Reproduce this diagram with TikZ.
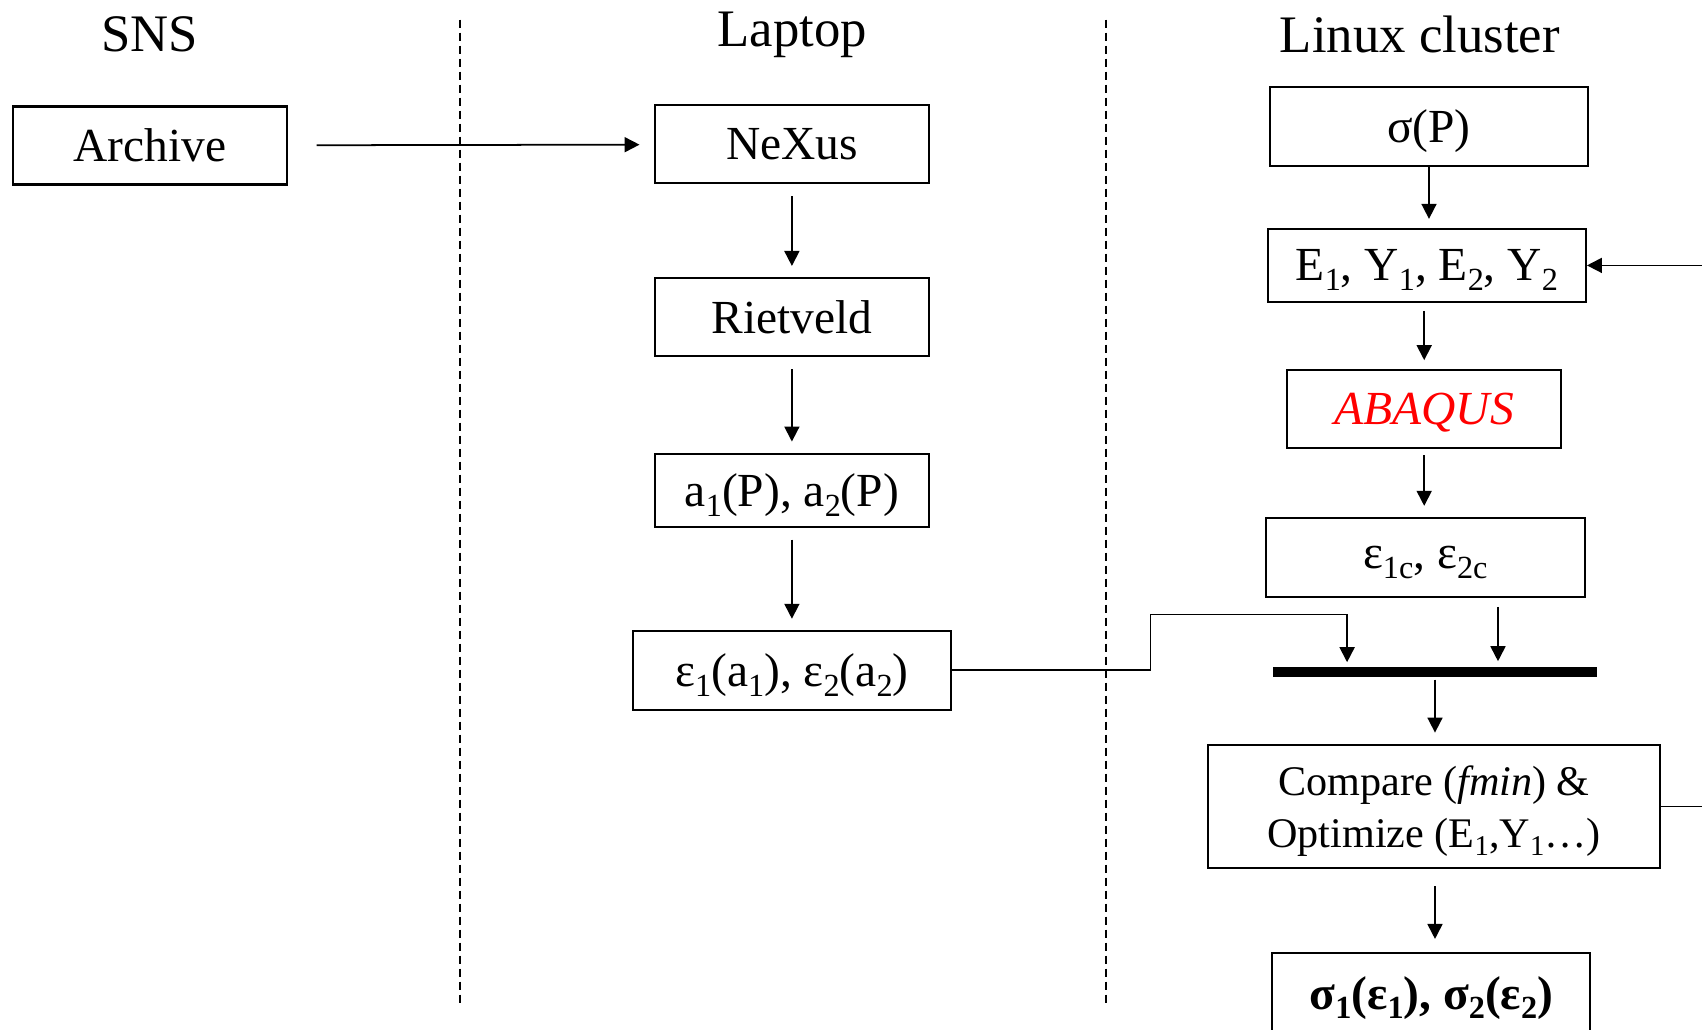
\documentclass[tikz,border=0pt]{standalone}
\usepackage{fontspec}
\setmainfont{Liberation Serif}
\usepackage{tikz}
\usetikzlibrary{arrows.meta}
\newcommand{\ix}[1]{\raisebox{-0.2em}{\scalebox{0.68}{#1}}}

\begin{document}
\begin{tikzpicture}[>={Triangle[length=1.5mm,width=1.5mm]},
      every node/.append style={inner sep=0pt,font=\fontsize{13.5}{16}\selectfont},
      flow/.style={->,line width=0.5pt,shorten <=1.2mm,shorten >=1.1mm},
      wire/.style={->,line width=0.5pt}]
    \tikzstyle{box} = [draw,line width=0.6pt,align=center,minimum height=7.8mm,text depth=0pt]
    \tikzstyle{title} = [font=\fontsize{15}{18}\selectfont]
    \path[use as bounding box,clip] (0,0) rectangle (17.02,-10.30);
    % columns
    \node [title] (sns) at (1.498,-0.347) {SNS};
    \node [title] (laptop) at (7.924,-0.347) {Laptop};
    \node [title] (cluster) at (14.198,-0.347) {Linux cluster};
    \draw [dashed,dash pattern=on 0.8mm off 0.5mm,line width=0.5pt] (4.603,-0.195) -- (4.603,-10.04);
    \draw [dashed,dash pattern=on 0.8mm off 0.5mm,line width=0.5pt] (11.061,-0.195) -- (11.061,-10.04);
    % laptop side
    \node [box,minimum width=27.36mm] (archive) at (1.498,-1.455) {Archive};
    \node [box,minimum width=27.46mm] (nexus) at (7.919,-1.444) {NeXus};
    \node [box,minimum width=27.46mm] (rietveld) at (7.919,-3.170) {Rietveld};
    \node [box,minimum width=27.46mm,minimum height=7.3mm] (lattice) at (7.919,-4.901)
      {a\ix{1}(P), a\ix{2}(P)};
    \node [box,minimum width=31.81mm,minimum height=7.9mm] (strain) at (7.919,-6.703)
      {ε\ix{1}(a\ix{1}), ε\ix{2}(a\ix{2})};
    % cluster side
    \node [box,minimum width=31.8mm,minimum height=7.9mm] (stress) at (14.290,-1.265) {σ(P)};
    \node [box,minimum width=31.8mm,minimum height=7.3mm] (moduli) at (14.269,-2.654)
      {E\ix{1}, Y\ix{1}, E\ix{2}, Y\ix{2}};
    \node [box,minimum width=27.36mm,text=red,font=\fontsize{13.5}{16}\selectfont\itshape] (abaqus) at (14.242,-4.092) {ABAQUS};
    \node [box,minimum width=31.91mm,minimum height=7.9mm] (calc) at (14.253,-5.574)
      {ε\ix{1c}, ε\ix{2c}};
    \node [fill=black,minimum width=32.35mm,minimum height=1mm] (bar) at (14.350,-6.719) {};
    \node [box,minimum width=45.15mm,minimum height=12.37mm,font=\fontsize{12}{14.8}\selectfont] (compare) at (14.340,-8.065)
      {Compare (\textit{fmin}) \&\\Optimize (E\ix{1},Y\ix{1}…)};
    \node [box,minimum width=31.81mm,minimum height=8mm,font=\fontsize{13.5}{16}\selectfont\bfseries] (result) at (14.313,-9.930)
      {σ\ix{1}(ε\ix{1}), σ\ix{2}(ε\ix{2})};
    \coordinate (jog) at (11.506,-6.144);
    \coordinate (drop) at (13.471,-6.622);
    \coordinate (loop) at (17.300,-2.654);
    % connectors
    \draw [flow,shorten <=2.9mm,shorten >=1.4mm] (archive) -- (nexus);
    \draw [flow] (nexus) -- (rietveld);
    \draw [flow] (rietveld) -- (lattice);
    \draw [flow] (lattice) -- (strain);
    \draw [wire] (strain.east) -| (jog) -| (drop);
    \draw [flow,shorten <=0pt,shorten >=0.9mm] (stress.south) -- (stress.south |- moduli.north);
    \draw [flow,shorten <=0.8mm,shorten >=0.9mm] (moduli.south -| abaqus) -- (abaqus.north);
    \draw [flow,shorten <=0.6mm,shorten >=1.1mm] (abaqus) -- (abaqus |- calc.north);
    \draw [flow,shorten <=0.9mm,shorten >=0.5mm] ([xshift=7.27mm]calc.south) -- ([xshift=6.3mm]bar.north);
    \draw [flow,shorten <=0.2mm,shorten >=1.1mm] (bar.south) -- (bar.south |- compare.north);
    \draw [flow,shorten <=1.7mm,shorten >=1.3mm] (compare.south -| bar) -- (bar |- result.north);
    \draw [wire] (compare.east) -| (loop) -- (moduli.east);
\end{tikzpicture}
\end{document}
